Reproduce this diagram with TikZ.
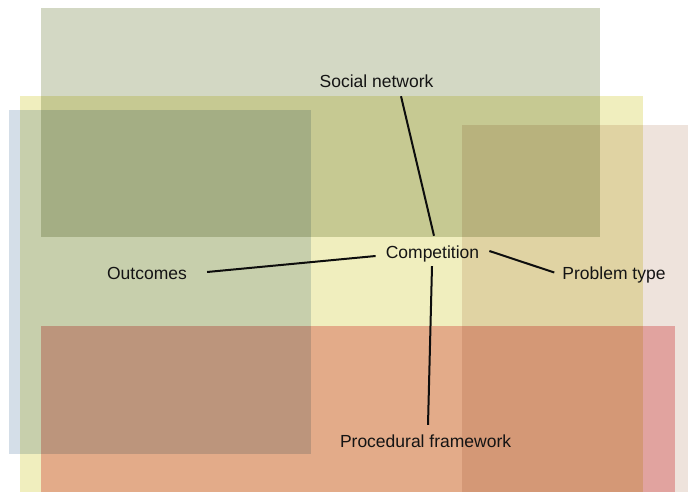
\documentclass[tikz,border=0pt]{standalone}
\usepackage{fontspec}
\setmainfont{Liberation Sans}
\begin{document}
\begin{tikzpicture}[x=1pt,y=-1pt,
  lbl/.style={inner sep=0pt, text height=12.5pt, text depth=3.5pt, anchor=base,
    text=black!92, font=\fontsize{17.5}{20}\selectfont},
  link/.style={line width=2pt, black!95},
  zone/.style={blend mode=multiply}]
\definecolor{cgreen}{RGB}{211,216,196}
\definecolor{cyellow}{RGB}{240,238,190}
\definecolor{cblue}{RGB}{212,222,232}
\definecolor{cbeige}{RGB}{238,227,220}
\definecolor{corange}{RGB}{242,184,185}
\fill[white] (0,0) rectangle (688,492);
\useasboundingbox (0,0) rectangle (688,492);
\fill[zone, cyellow] (20,96) rectangle (643,492);
\fill[zone, cgreen] (41,8) rectangle (600,237);
\fill[zone, cblue] (9,110) rectangle (311,454);
\fill[zone, cbeige] (462,125) rectangle (688,492);
\fill[zone, corange] (41,326) rectangle (675,492);
\node[lbl] (soc) at (376.5,88) {Social network};
\node[lbl] (comp) at (432.5,258) {Competition};
\node[lbl] (out) at (147,279) {Outcomes};
\node[lbl] (prob) at (614,279) {Problem type};
\node[lbl] (proc) at (425.6,447) {Procedural framework};
\draw[link] ([xshift=24.5pt,yshift=-4.5pt]soc.south) -- ([xshift=1.5pt,yshift=9.5pt]comp.north);
\draw[link] ([xshift=20pt,yshift=2.5pt]out.east) -- ([xshift=-10pt,yshift=-2.5pt]comp.west);
\draw[link] ([xshift=10pt,yshift=2.5pt]comp.east) -- ([xshift=-8pt,yshift=2pt]prob.west);
\draw[link] ([xshift=-0.5pt,yshift=-4.5pt]comp.south) -- ([xshift=2.4pt,yshift=9.5pt]proc.north);
\end{tikzpicture}
\end{document}
